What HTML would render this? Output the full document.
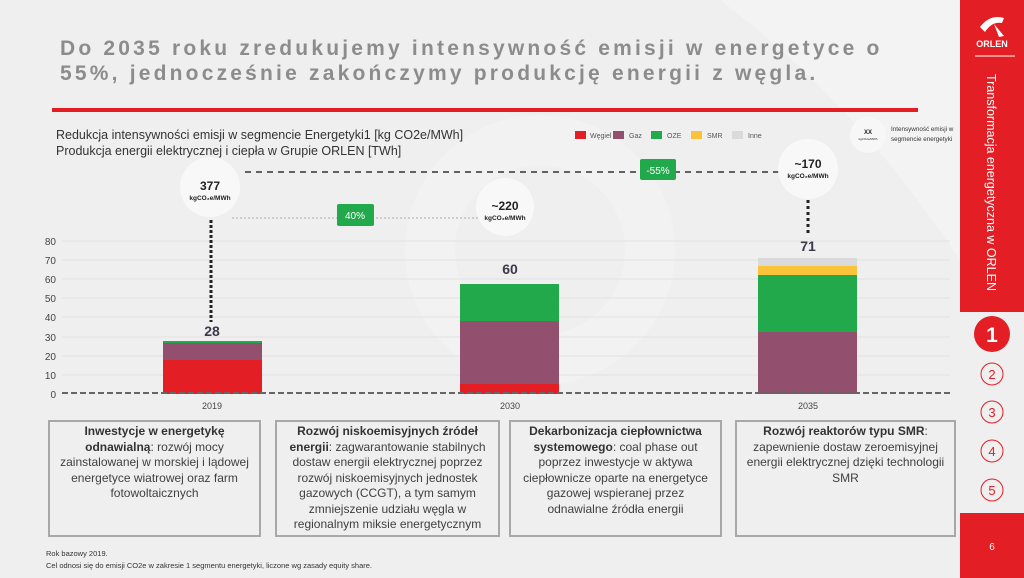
<!DOCTYPE html>
<html><head><meta charset="utf-8"><style>
body{margin:0;width:1024px;height:578px;overflow:hidden;background:#efefef;font-family:"Liberation Sans",sans-serif}
.box{position:absolute;top:420px;height:117px;border:2px solid #a8a8a8;box-sizing:border-box;font-size:12px;line-height:15.5px;color:#404040;text-align:center;padding:2px 4px}
.box b{color:#333}
</style></head><body>
<svg width="1024" height="578" style="position:absolute;left:0;top:0" font-family="Liberation Sans, sans-serif">
<path d="M720 0 C800 60 880 140 960 260 L960 0 Z" fill="#f3f3f3"/>
<circle cx="540" cy="250" r="110" fill="none" stroke="#f2f2f2" stroke-width="50"/>
<text x="60" y="55" font-size="21" font-weight="bold" fill="#8c8c8c" letter-spacing="3.2">Do 2035 roku zredukujemy intensywność emisji w energetyce o</text>
<text x="60" y="80" font-size="21" font-weight="bold" fill="#8c8c8c" letter-spacing="3.2">55%, jednocześnie zakończymy produkcję energii z węgla.</text>
<rect x="52" y="108" width="866" height="4" fill="#e31e24"/>
<text x="56" y="139" font-size="12.5" fill="#333">Redukcja intensywności emisji w segmencie Energetyki1 [kg CO2e/MWh]</text>
<text x="56" y="155" font-size="12.5" fill="#333">Produkcja energii elektrycznej i ciepła w Grupie ORLEN [TWh]</text>
<g font-size="7" fill="#555">
<rect x="575" y="131" width="11" height="8" fill="#e31e24"/><text x="590" y="138">Węgiel</text>
<rect x="613" y="131" width="11" height="8" fill="#934f6e"/><text x="629" y="138">Gaz</text>
<rect x="651" y="131" width="11" height="8" fill="#22a94b"/><text x="667" y="138">OZE</text>
<rect x="691" y="131" width="11" height="8" fill="#fbc33a"/><text x="707" y="138">SMR</text>
<rect x="732" y="131" width="11" height="8" fill="#dadada"/><text x="748" y="138">Inne</text>
</g>
<circle cx="868" cy="135" r="18" fill="#f7f7f7"/>
<text x="868" y="134" font-size="6" font-weight="bold" text-anchor="middle" fill="#222">XX</text>
<text x="868" y="140" font-size="3" text-anchor="middle" fill="#222">kgCO2e/MWh</text>
<text x="891" y="131" font-size="6.3" fill="#333">Intensywność emisji w</text>
<text x="891" y="141" font-size="6.3" fill="#333">segmencie energetyki</text>
<g stroke="#e2e2e2" stroke-width="1">
<line x1="62" y1="241" x2="950" y2="241"/><line x1="62" y1="260" x2="950" y2="260"/><line x1="62" y1="279" x2="950" y2="279"/><line x1="62" y1="298" x2="950" y2="298"/><line x1="62" y1="317" x2="950" y2="317"/><line x1="62" y1="337" x2="950" y2="337"/><line x1="62" y1="356" x2="950" y2="356"/><line x1="62" y1="375" x2="950" y2="375"/>
</g>
<g font-size="10" fill="#444" text-anchor="end">
<text x="56" y="245">80</text><text x="56" y="264">70</text><text x="56" y="283">60</text><text x="56" y="302">50</text><text x="56" y="321">40</text><text x="56" y="341">30</text><text x="56" y="360">20</text><text x="56" y="379">10</text><text x="56" y="398">0</text>
</g>
<rect x="163" y="360" width="99" height="34" fill="#e31e24"/>
<rect x="163" y="343" width="99" height="17" fill="#934f6e"/>
<rect x="163" y="341" width="99" height="2" fill="#22a94b"/>
<rect x="460" y="384" width="99" height="10" fill="#e31e24"/>
<rect x="460" y="321" width="99" height="63" fill="#934f6e"/>
<rect x="460" y="284" width="99" height="37" fill="#22a94b"/>
<rect x="758" y="332" width="99" height="62" fill="#934f6e"/>
<rect x="758" y="275" width="99" height="57" fill="#22a94b"/>
<rect x="758" y="266" width="99" height="9" fill="#fbc33a"/>
<rect x="758" y="258" width="99" height="8" fill="#dadada"/>
<line x1="62" y1="393" x2="950" y2="393" stroke="#666" stroke-width="2" stroke-dasharray="6,3"/>
<g font-size="9" fill="#444" text-anchor="middle"><text x="212" y="409">2019</text><text x="510" y="409">2030</text><text x="808" y="409">2035</text></g>
<g font-size="14" font-weight="bold" fill="#3a3a4a" text-anchor="middle"><text x="212" y="336">28</text><text x="510" y="274">60</text><text x="808" y="251">71</text></g>
<line x1="245" y1="172" x2="780" y2="172" stroke="#333" stroke-width="1.5" stroke-dasharray="6,5"/>
<line x1="232" y1="218" x2="480" y2="218" stroke="#aaa" stroke-width="1" stroke-dasharray="2,2"/>
<line x1="211" y1="220" x2="211" y2="322" stroke="#222" stroke-width="3" stroke-dasharray="3,2"/>
<line x1="808" y1="200" x2="808" y2="236" stroke="#222" stroke-width="3" stroke-dasharray="3,3"/>
<circle cx="210" cy="187" r="30" fill="#f8f8f8"/>
<circle cx="505" cy="207" r="29" fill="#f8f8f8"/>
<circle cx="808" cy="169" r="30" fill="#f8f8f8"/>
<g text-anchor="middle" fill="#222" font-weight="bold">
<text x="210" y="190" font-size="12">377</text><text x="210" y="200" font-size="6.5">kgCO₂e/MWh</text>
<text x="505" y="210" font-size="12">~220</text><text x="505" y="220" font-size="6.5">kgCO₂e/MWh</text>
<text x="808" y="168" font-size="12">~170</text><text x="808" y="178" font-size="6.5">kgCO₂e/MWh</text>
</g>
<rect x="337" y="204" width="37" height="22" rx="2" fill="#22a94b"/><text x="355" y="219" font-size="10" fill="#fff" text-anchor="middle">40%</text>
<rect x="640" y="159" width="36" height="21" rx="2" fill="#22a94b"/><text x="658" y="174" font-size="10" fill="#fff" text-anchor="middle">-55%</text>
<text x="46" y="556" font-size="7.5" fill="#333">Rok bazowy 2019.</text>
<text x="46" y="568" font-size="7.5" fill="#333">Cel odnosi się do emisji CO2e w zakresie 1 segmentu energetyki, liczone wg zasady equity share.</text>
<rect x="960" y="0" width="64" height="312" fill="#e31e24"/>
<path d="M980 27 Q990 14 1004 18 L1002 23 Q992 21 985 32 Z M994 24 L1004 36 L999 37 Z" fill="#fff"/>
<text x="992" y="47" font-size="9" font-weight="bold" fill="#fff" text-anchor="middle">ORLEN</text>
<line x1="975" y1="56" x2="1015" y2="56" stroke="#fff" stroke-width="1"/>
<text transform="translate(987,74) rotate(90)" font-size="12.5" fill="#fff">Transformacja energetyczna w ORLEN</text>
<circle cx="992" cy="334" r="18" fill="#e31e24"/><text x="992" y="342" font-size="21" font-weight="bold" fill="#fff" text-anchor="middle">1</text>
<g fill="none" stroke="#e31e24" stroke-width="1"><circle cx="992" cy="374" r="11"/><circle cx="992" cy="412" r="11"/><circle cx="992" cy="451" r="11"/><circle cx="992" cy="490" r="11"/></g>
<g font-size="13" fill="#e31e24" text-anchor="middle"><text x="992" y="379">2</text><text x="992" y="417">3</text><text x="992" y="456">4</text><text x="992" y="495">5</text></g>
<rect x="960" y="513" width="64" height="65" fill="#e31e24"/>
<text x="992" y="550" font-size="10" fill="#fff" text-anchor="middle">6</text>
</svg>
<div class="box" style="left:48px;width:213px"><b>Inwestycje w energetykę odnawialną</b>: rozwój mocy zainstalowanej w morskiej i lądowej energetyce wiatrowej oraz farm fotowoltaicznych</div>
<div class="box" style="left:275px;width:225px"><b>Rozwój niskoemisyjnych źródeł energii</b>: zagwarantowanie stabilnych dostaw energii elektrycznej poprzez rozwój niskoemisyjnych jednostek gazowych (CCGT), a tym samym zmniejszenie udziału węgla w regionalnym miksie energetycznym</div>
<div class="box" style="left:509px;width:213px"><b>Dekarbonizacja ciepłownictwa systemowego</b>: coal phase out poprzez inwestycje w aktywa ciepłownicze oparte na energetyce gazowej wspieranej przez odnawialne źródła energii</div>
<div class="box" style="left:735px;width:221px"><b>Rozwój reaktorów typu SMR</b>: zapewnienie dostaw zeroemisyjnej energii elektrycznej dzięki technologii SMR</div>
</body></html>
